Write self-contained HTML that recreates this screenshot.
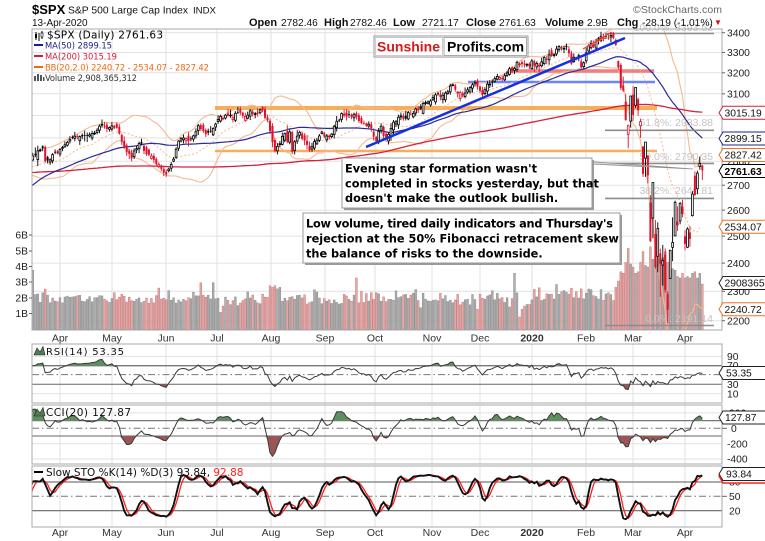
<!DOCTYPE html>
<html><head><meta charset="utf-8"><title>SPX Daily</title>
<style>
html,body{margin:0;padding:0;background:#fff;width:765px;height:541px;overflow:hidden}
svg{display:block}
.l{font-family:"Liberation Sans",Arial,sans-serif}
.d{font-family:"DejaVu Sans",Verdana,sans-serif}
</style></head><body>
<svg width="765" height="541" viewBox="0 0 765 541" xmlns="http://www.w3.org/2000/svg">
<defs>
<clipPath id="cm"><rect x="32" y="29" width="690" height="301"/></clipPath>
<clipPath id="cr"><rect x="32" y="344" width="690" height="59"/></clipPath>
<clipPath id="cc"><rect x="32" y="405" width="690" height="59"/></clipPath>
<clipPath id="cs"><rect x="32" y="466" width="690" height="61"/></clipPath>
</defs>
<rect width="765" height="541" fill="#fff"/>
<g id="grid"></g>
<g id="vol" clip-path="url(#cm)"></g>
<g clip-path="url(#cm)">
<line x1="215" y1="108" x2="657" y2="108" stroke="#f5a040" stroke-width="4" opacity="0.85"/>
<line x1="215" y1="151" x2="657" y2="151" stroke="#f5a040" stroke-width="2.5" opacity="0.85"/>
<line x1="507" y1="71" x2="654" y2="71" stroke="#f06060" stroke-width="3.5" opacity="0.8"/>
<line x1="468" y1="82" x2="655" y2="82" stroke="#5070ff" stroke-width="2.5" opacity="0.85"/>
</g>
<g id="ma" clip-path="url(#cm)"></g>
<g stroke="#8c8c8c" stroke-width="1.6">
<line x1="605" y1="33.5" x2="714" y2="33.5"/>
<line x1="605" y1="130.3" x2="714" y2="130.3"/>
<line x1="605" y1="163.4" x2="714" y2="163.4"/>
<line x1="605" y1="198.4" x2="714" y2="198.4"/>
<line x1="605" y1="325.5" x2="714" y2="325.5"/>
</g>
<g class="l" font-size="10.5" fill="#c4c4c4" text-anchor="end">
<text x="713" y="31">100.0%: 3393.52</text>
<text x="713" y="126">61.8%: 2933.88</text>
<text x="713" y="160">50.0%: 2790.35</text>
<text x="713" y="194">38.2%: 2646.81</text>
<text x="713" y="322">0.0%: 2191.14</text>
</g>
<g id="cdl" clip-path="url(#cm)"></g>
<line x1="366" y1="147" x2="625" y2="38" stroke="#1530e0" stroke-width="2.5"/>
<line x1="583" y1="49" x2="612" y2="32" stroke="#ff3030" stroke-width="1.2"/>
<line x1="590" y1="46" x2="606" y2="37" stroke="#ff6060" stroke-width="0.8"/>

<polygon points="548,158.5 693,169 592,164" fill="#d8d8d8" stroke="#8a8a8a" stroke-width="0.8"/>
<rect x="344" y="160" width="250" height="50" fill="#9a9a9a"/>
<rect x="342" y="158" width="250" height="50" fill="#fff" stroke="#999" stroke-width="1"/>
<g class="d" font-size="11.3" font-weight="bold" fill="#000">
<text x="345" y="172.5" textLength="192">Evening star formation wasn't</text>
<text x="345" y="187.5">completed in stocks yesterday, but that</text>
<text x="345" y="202">doesn't make the outlook bullish.</text>
</g>
<rect x="305" y="215" width="317" height="50" fill="#9a9a9a"/>
<rect x="303" y="213" width="317" height="50" fill="#fff" stroke="#999" stroke-width="1"/>
<g class="d" font-size="11.3" font-weight="bold" fill="#000">
<text x="306" y="227.5" textLength="307">Low volume, tired daily indicators and Thursday's</text>
<text x="306" y="242.5">rejection at the 50% Fibonacci retracement skew</text>
<text x="306" y="257.5">the balance of risks to the downside.</text>
</g>

<rect x="374" y="36" width="154" height="21" fill="#fff" stroke="#999"/>
<rect x="375.5" y="37.5" width="67" height="18" fill="#fff" stroke="#ccc"/>
<rect x="444" y="37.5" width="82.5" height="18" fill="#fff" stroke="#aaa"/>
<text class="l" x="377" y="51.5" font-size="14" font-weight="bold" fill="#d41a1a">Sunshine</text>
<text class="l" x="447" y="51.5" font-size="14" font-weight="bold" fill="#000">Profits.com</text>

<g id="ind"></g>

<g fill="none" stroke="#a8a8a8" stroke-width="1">
<rect x="32" y="29" width="690" height="301"/>
<rect x="32" y="344" width="690" height="59"/>
<rect x="32" y="405" width="690" height="59"/>
<rect x="32" y="466" width="690" height="61"/>
</g>

<text class="l" x="32" y="14" font-size="13" font-weight="bold" fill="#000">$SPX</text>
<text class="l" x="68" y="13.5" font-size="10.3" fill="#111" textLength="120">S&amp;P 500 Large Cap Index</text>
<text class="l" x="193" y="13.5" font-size="9.6" fill="#111">INDX</text>
<text class="l" x="633" y="13" font-size="10.5" fill="#666" textLength="89">©StockCharts.com</text>
<text class="l" x="32" y="26" font-size="10" fill="#111">13-Apr-2020</text>
<g class="l" font-size="10.2" fill="#111">
<text x="249" y="26" font-weight="bold" font-size="11">Open</text><text x="281" y="26">2782.46</text>
<text x="324" y="26" font-weight="bold" font-size="11">High</text><text x="350" y="26">2782.46</text>
<text x="393" y="26" font-weight="bold" font-size="11">Low</text><text x="422" y="26">2721.17</text>
<text x="466" y="26" font-weight="bold" font-size="11">Close</text><text x="499" y="26">2761.63</text>
<text x="545" y="26" font-weight="bold" font-size="11">Volume</text><text x="587" y="26">2.9B</text>
<text x="617" y="26" font-weight="bold" font-size="11">Chg</text><text x="642" y="26">-28.19 (-1.01%)</text>
</g>
<text class="l" x="714" y="25" font-size="8" fill="#d01010">▼</text>

<g stroke="#000" stroke-width="1"><line x1="36" y1="32" x2="36" y2="40"/><line x1="39" y1="33" x2="39" y2="41"/><line x1="42" y1="31" x2="42" y2="39"/></g>
<rect x="35" y="34" width="2" height="4" fill="#000"/><rect x="41" y="33" width="2" height="4" fill="#fff" stroke="#000" stroke-width="0.6"/>
<text class="d" x="47" y="38.5" font-size="10.5" fill="#000" textLength="116">$SPX (Daily) 2761.63</text>
<line x1="34" y1="45" x2="43" y2="45" stroke="#1c1c8c" stroke-width="2"/>
<text class="d" x="45" y="48.5" font-size="8.4" fill="#1c1c8c" textLength="67">MA(50) 2899.15</text>
<line x1="34" y1="56" x2="43" y2="56" stroke="#d01c3c" stroke-width="2"/>
<text class="d" x="45" y="59.5" font-size="8.4" fill="#d01c3c" textLength="72">MA(200) 3015.19</text>
<line x1="34" y1="67" x2="43" y2="67" stroke="#f06a10" stroke-width="2"/>
<text class="d" x="45" y="70.5" font-size="8.4" fill="#f06a10" textLength="164">BB(20,2.0) 2240.72 - 2534.07 - 2827.42</text>
<g fill="#555"><rect x="34" y="76" width="2" height="5"/><rect x="37" y="74" width="2" height="7"/><rect x="40" y="75" width="2" height="6"/><rect x="43" y="77" width="1.5" height="4"/></g>
<text class="d" x="45" y="81" font-size="8.4" fill="#333" textLength="92">Volume 2,908,365,312</text>

<g class="l" font-size="10.3" fill="#222" text-anchor="end">
<text x="28" y="238.5">6B</text><text x="28" y="254.5">5B</text><text x="28" y="270">4B</text>
<text x="28" y="285.5">3B</text><text x="28" y="301.5">2B</text><text x="28" y="317">1B</text>
</g>
<g stroke="#666"><line x1="29" y1="235" x2="32" y2="235"/><line x1="29" y1="251" x2="32" y2="251"/><line x1="29" y1="266.5" x2="32" y2="266.5"/><line x1="29" y1="282" x2="32" y2="282"/><line x1="29" y1="298" x2="32" y2="298"/><line x1="29" y1="313.5" x2="32" y2="313.5"/></g>

<g stroke="#666"><line x1="722" y1="32.7" x2="725" y2="32.7"/><line x1="722" y1="52.5" x2="725" y2="52.5"/><line x1="722" y1="72.8" x2="725" y2="72.8"/><line x1="722" y1="93.8" x2="725" y2="93.8"/><line x1="722" y1="185.2" x2="725" y2="185.2"/><line x1="722" y1="210.1" x2="725" y2="210.1"/><line x1="722" y1="236.1" x2="725" y2="236.1"/><line x1="722" y1="263.1" x2="725" y2="263.1"/><line x1="722" y1="291.3" x2="725" y2="291.3"/><line x1="722" y1="320.7" x2="725" y2="320.7"/></g>
<g class="l" font-size="10.3" fill="#222">
<text x="727" y="36.4">3400</text><text x="727" y="56.2">3300</text><text x="727" y="76.5">3200</text><text x="727" y="97.5">3100</text>
<text x="727" y="119.2">3000</text><text x="727" y="141.6">2900</text><text x="727" y="164.8">2800</text>
<text x="727" y="188.9">2700</text><text x="727" y="213.8">2600</text><text x="727" y="239.8">2500</text>
<text x="727" y="266.8">2400</text><text x="727" y="295">2300</text><text x="727" y="324.4">2200</text>
</g>
<g class="l" font-size="10.3">
<path d="M719,112.7 L723,106.2 L766,106.2 L766,119.2 L723,119.2 Z" fill="#fff" stroke="#d0203a"/>
<text x="724.5" y="116.4" fill="#111">3015.19</text>
<path d="M719,138.5 L723,132 L766,132 L766,145 L723,145 Z" fill="#fff" stroke="#202090"/>
<text x="724.5" y="142.2" fill="#111">2899.15</text>
<path d="M719,155 L723,148.5 L766,148.5 L766,161.5 L723,161.5 Z" fill="#fff" stroke="#f07020"/>
<text x="724.5" y="158.7" fill="#111">2827.42</text>
<path d="M719,171 L723,164.5 L766,164.5 L766,177.5 L723,177.5 Z" fill="#fff" stroke="#000"/>
<text x="724.5" y="174.8" fill="#000" font-weight="bold">2761.63</text>
<path d="M719,226.7 L723,220.2 L766,220.2 L766,233.2 L723,233.2 Z" fill="#fff" stroke="#f07020"/>
<text x="724.5" y="230.4" fill="#111">2534.07</text>
<path d="M719,283 L723,276.5 L766,276.5 L766,289.5 L723,289.5 Z" fill="#fff" stroke="#222"/>
<text x="724.5" y="286.7" fill="#111">2908365</text>
<path d="M719,309.3 L723,302.8 L766,302.8 L766,315.8 L723,315.8 Z" fill="#fff" stroke="#f07020"/>
<text x="724.5" y="313" fill="#111">2240.72</text>
</g>

<g class="l" font-size="10.5" fill="#333" text-anchor="middle">
<text x="60" y="341.5">Apr</text><text x="112" y="341.5">May</text><text x="166" y="341.5">Jun</text><text x="217" y="341.5">Jul</text><text x="271" y="341.5">Aug</text><text x="325" y="341.5">Sep</text><text x="375" y="341.5">Oct</text><text x="432" y="341.5">Nov</text><text x="480" y="341.5">Dec</text><text x="532" y="341.5" font-weight="bold">2020</text><text x="586" y="341.5">Feb</text><text x="633" y="341.5">Mar</text><text x="685" y="341.5">Apr</text>
<text x="60" y="536">Apr</text><text x="112" y="536">May</text><text x="166" y="536">Jun</text><text x="217" y="536">Jul</text><text x="271" y="536">Aug</text><text x="325" y="536">Sep</text><text x="375" y="536">Oct</text><text x="432" y="536">Nov</text><text x="480" y="536">Dec</text><text x="532" y="536" font-weight="bold">2020</text><text x="586" y="536">Feb</text><text x="633" y="536">Mar</text><text x="685" y="536">Apr</text>
</g>

<polygon points="34,355 37,348 40,352 43,346.5 45,355" fill="#4f7f4f" stroke="#222" stroke-width="0.6"/>
<text class="d" x="46" y="355" font-size="10" fill="#111" textLength="78">RSI(14) 53.35</text>
<polygon points="34,416 37,409 40,413 43,407.5 45,416" fill="#4f7f4f" stroke="#222" stroke-width="0.6"/>
<text class="d" x="46" y="416" font-size="10.5" fill="#111" textLength="85">CCI(20) 127.87</text>
<line x1="34" y1="472" x2="43" y2="472" stroke="#000" stroke-width="2"/>
<text class="d" x="46" y="476" font-size="10.5" fill="#111">Slow STO %K(14) %D(3) 93.84, <tspan fill="#ff2020">92.88</tspan></text>

<g class="l" font-size="10.3" fill="#222">
<text x="727" y="359.8">90</text><text x="727" y="369">70</text><text x="727" y="388">30</text><text x="727" y="397.3">10</text>
<text x="729" y="416.6">200</text><text x="731" y="432">0</text><text x="727" y="447.4">-200</text><text x="727" y="462.7">-400</text>
<text x="729" y="485.7">80</text><text x="729" y="500">50</text><text x="729" y="514.4">20</text>
</g>
<g stroke="#666"><line x1="722" y1="496.3" x2="727" y2="496.3"/><line x1="722" y1="428.3" x2="727" y2="428.3"/></g>
<g class="l" font-size="10.3">
<path d="M719,373 L723,366.5 L766,366.5 L766,379.5 L723,379.5 Z" fill="#fff" stroke="#222"/>
<text x="726" y="376.7" fill="#111">53.35</text>
<path d="M719,417.5 L723,411 L766,411 L766,424 L723,424 Z" fill="#fff" stroke="#222"/>
<text x="725" y="421.2" fill="#111">127.87</text>
<path d="M719,476 L723,470 L766,470 L766,483 L723,483 Z" fill="#fff" stroke="#ff2020" stroke-width="1.5"/>
<path d="M719,474 L723,467.5 L766,467.5 L766,480.5 L723,480.5 Z" fill="#fff" stroke="#222"/>
<text x="726" y="477.7" fill="#111">93.84</text>
</g>
</svg>
<script>
(function(){
var hol={'2018-05-28':1,'2018-07-04':1,'2018-09-03':1,'2018-11-22':1,'2018-12-05':1,'2018-12-25':1,'2019-01-01':1,'2019-01-21':1,'2019-02-18':1,'2019-04-19':1,'2019-05-27':1,'2019-07-04':1,'2019-09-02':1,'2019-11-28':1,'2019-12-25':1,'2020-01-01':1,'2020-01-20':1,'2020-02-17':1,'2020-04-10':1};
var days=[];
for(var t=Date.UTC(2018,4,1);t<=Date.UTC(2020,3,13);t+=86400000){var d=new Date(t),w=d.getUTCDay(),s=d.toISOString().slice(0,10);if(w>0&&w<6&&!hol[s])days.push(s);}
var N=days.length,idx={};days.forEach(function(s,i){idx[s]=i;});
function fi(s){if(idx[s]!==undefined)return idx[s];for(var i=0;i<N;i++)if(days[i]>s)return i;return N-1;}
var seed=12345;function rnd(){seed|=0;seed=seed+0x6D2B79F5|0;var t=Math.imul(seed^seed>>>15,1|seed);t=t+Math.imul(t^t>>>7,61|t)^t;return((t^t>>>14)>>>0)/4294967296;}
function g(){var u=0;while(u===0)u=rnd();var v=rnd();return Math.sqrt(-2*Math.log(u))*Math.cos(2*Math.PI*v);}
var A=[['2018-05-01',2655],['2018-05-21',2733],['2018-05-29',2690],['2018-06-13',2775],['2018-06-27',2699],['2018-07-25',2846],['2018-08-10',2833],['2018-08-29',2914],['2018-09-20',2930],['2018-10-03',2926],['2018-10-11',2728],['2018-10-17',2810],['2018-10-29',2641],['2018-11-07',2814],['2018-11-20',2641],['2018-11-30',2760],['2018-12-03',2790],['2018-12-07',2633],['2018-12-13',2651],['2018-12-24',2351],['2018-12-26',2468],['2019-01-03',2448],['2019-01-18',2671],['2019-01-31',2704],['2019-02-15',2776],['2019-02-28',2784],['2019-03-08',2743],['2019-03-15',2822],['2019-03-21',2855],['2019-03-22',2800],['2019-03-29',2834],['2019-04-05',2893],['2019-04-12',2907],['2019-04-23',2934],['2019-04-30',2946],['2019-05-03',2945],['2019-05-07',2884],['2019-05-13',2812],['2019-05-16',2876],['2019-05-23',2822],['2019-05-31',2752],['2019-06-03',2744],['2019-06-10',2886],['2019-06-14',2887],['2019-06-20',2954],['2019-06-25',2917],['2019-06-28',2942],['2019-07-03',2996],['2019-07-15',3014],['2019-07-18',2996],['2019-07-26',3026],['2019-07-31',2980],['2019-08-05',2844],['2019-08-09',2919],['2019-08-12',2883],['2019-08-13',2926],['2019-08-14',2840],['2019-08-19',2924],['2019-08-23',2847],['2019-08-30',2926],['2019-09-03',2906],['2019-09-12',3009],['2019-09-19',3006],['2019-09-24',2966],['2019-09-27',2961],['2019-10-02',2887],['2019-10-04',2952],['2019-10-08',2893],['2019-10-11',2970],['2019-10-18',2986],['2019-10-28',3039],['2019-11-01',3067],['2019-11-08',3093],['2019-11-15',3120],['2019-11-21',3104],['2019-11-27',3154],['2019-12-03',3093],['2019-12-06',3146],['2019-12-13',3169],['2019-12-20',3221],['2019-12-27',3240],['2019-12-31',3231],
['2020-01-02',3258],['2020-01-03',3235],['2020-01-06',3246],['2020-01-07',3237],['2020-01-08',3253],['2020-01-09',3275],['2020-01-10',3265],['2020-01-13',3288],['2020-01-14',3283],['2020-01-15',3289],['2020-01-16',3317],['2020-01-17',3330],['2020-01-21',3321],['2020-01-22',3321],['2020-01-23',3326],['2020-01-24',3295],['2020-01-27',3244],['2020-01-28',3276],['2020-01-29',3273],['2020-01-30',3284],['2020-01-31',3226],['2020-02-03',3249],['2020-02-04',3298],['2020-02-05',3334],['2020-02-06',3345],['2020-02-07',3328],['2020-02-10',3352],['2020-02-11',3357],['2020-02-12',3379],['2020-02-13',3374],['2020-02-14',3380],['2020-02-18',3370],['2020-02-19',3386],['2020-02-20',3373],['2020-02-21',3338],
['2020-02-24',3257,3260,3214,3226],['2020-02-25',3238,3247,3118,3128],['2020-02-26',3140,3182,3108,3116],['2020-02-27',3063,3098,2977,2979],['2020-02-28',2916,2959,2855,2954],['2020-03-02',2975,3090,2945,3090],['2020-03-03',3096,3136,2976,3003],['2020-03-04',3046,3130,3034,3130],['2020-03-05',3075,3083,2999,3024],['2020-03-06',2954,2985,2901,2972],['2020-03-09',2863,2863,2734,2747],['2020-03-10',2813,2882,2734,2882],['2020-03-11',2825,2825,2707,2741],['2020-03-12',2630,2660,2478,2481],['2020-03-13',2569,2711,2492,2711],['2020-03-16',2508,2562,2380,2386],['2020-03-17',2425,2553,2367,2529],['2020-03-18',2436,2453,2281,2398],['2020-03-19',2393,2467,2320,2409],['2020-03-20',2431,2454,2295,2305],['2020-03-23',2290,2300,2192,2237],['2020-03-24',2345,2449,2345,2447],['2020-03-25',2458,2572,2407,2476],['2020-03-26',2501,2638,2500,2630],['2020-03-27',2556,2615,2520,2541],['2020-03-30',2558,2631,2545,2627],['2020-03-31',2614,2641,2572,2585],['2020-04-01',2499,2522,2447,2471],['2020-04-02',2458,2534,2455,2527],['2020-04-03',2514,2538,2460,2489],['2020-04-06',2579,2676,2575,2664],['2020-04-07',2739,2757,2657,2660],['2020-04-08',2686,2760,2663,2750],['2020-04-09',2777,2819,2764,2790],['2020-04-13',2782.46,2782.46,2721.17,2761.63]];
var C=new Array(N),O=new Array(N),H=new Array(N),L=new Array(N),ex={};
var an=A.map(function(a){var i=fi(a[0]);if(a.length>2){ex[i]=a;}return [i,a.length>2?a[4]:a[1]];});
for(var k=0;k<an.length;k++){C[an[k][0]]=an[k][1];}
for(k=0;k<an.length-1;k++){var ia=an[k][0],ib=an[k+1][0],n=ib-ia;if(n<2)continue;var La=Math.log(an[k][1]),Lb=Math.log(an[k+1][1]);var W=[0];for(var j=1;j<=n;j++)W[j]=W[j-1]+g()*0.0036;for(j=1;j<n;j++)C[ia+j]=Math.exp(La+(Lb-La)*j/n+W[j]-j/n*W[n]);}
for(var i=0;i<N;i++){if(ex[i]){O[i]=ex[i][1];H[i]=ex[i][2];L[i]=ex[i][3];C[i]=ex[i][4];continue;}var c=C[i];var o=i>0?C[i-1]*Math.exp(g()*0.003):c;O[i]=o;H[i]=Math.max(o,c)*Math.exp(Math.abs(g())*0.003+0.0015);L[i]=Math.min(o,c)*Math.exp(-(Math.abs(g())*0.003+0.0015));}
var vo={'2019-03-15':3.8,'2019-06-21':3.0,'2019-06-28':3.0,'2019-07-03':1.1,'2019-07-05':1.5,'2019-08-01':2.8,'2019-08-02':2.7,'2019-08-05':2.8,'2019-08-06':2.6,'2019-08-07':2.7,'2019-09-20':3.3,'2019-11-29':1.3,'2019-12-20':3.6,'2019-12-24':0.8,'2019-12-26':1.3,'2019-12-27':1.5,'2019-12-30':1.6,'2019-12-31':1.6,'2020-01-02':1.9,'2020-01-31':2.6,'2020-02-21':2.7,'2020-02-24':3.1,'2020-02-25':3.7,'2020-02-26':3.6,'2020-02-27':4.3,'2020-02-28':5.2,'2020-03-02':4.2,'2020-03-03':4.0,'2020-03-04':3.6,'2020-03-05':3.7,'2020-03-06':4.3,'2020-03-09':5.0,'2020-03-10':4.1,'2020-03-11':4.0,'2020-03-12':5.3,'2020-03-13':4.5,'2020-03-16':4.7,'2020-03-17':4.6,'2020-03-18':4.5,'2020-03-19':4.6,'2020-03-20':5.0,'2020-03-23':4.3,'2020-03-24':4.1,'2020-03-25':3.9,'2020-03-26':3.8,'2020-03-27':3.4,'2020-03-30':3.3,'2020-03-31':3.6,'2020-04-01':3.3,'2020-04-02':3.4,'2020-04-03':3.3,'2020-04-06':3.6,'2020-04-07':3.7,'2020-04-08':3.3,'2020-04-09':3.6,'2020-04-13':2.91};
var V=[];for(i=0;i<N;i++){var b=days[i]>='2020-01-01'?2.2:1.97;V[i]=vo[days[i]]!==undefined?vo[days[i]]:b*Math.exp(g()*0.12);}
var iA=fi('2019-04-01'),iB=fi('2020-04-01'),dx=(685-60)/(iB-iA);
function X(i){return 60+(i-iA)*dx;}
var LN=Math.log(3400);function Y(p){return 32.7+(LN-Math.log(p))*661.6;}
var iS=0;while(X(iS)<26)iS++;
function sma(arr,p){var r=[];for(var i=0;i<N;i++){if(i<p-1){r[i]=null;continue;}var s=0;for(var j=i-p+1;j<=i;j++)s+=arr[j];r[i]=s/p;}return r;}
var m50=sma(C,50),m200=sma(C,200),m20=sma(C,20),bu=[],bl=[];
for(i=0;i<N;i++){if(m20[i]==null){bu[i]=bl[i]=null;continue;}var s2=0;for(j=i-19;j<=i;j++)s2+=Math.pow(C[j]-m20[i],2);var sd=Math.sqrt(s2/20);bu[i]=m20[i]+2*sd;bl[i]=m20[i]-2*sd;}
var f=function(v){return v.toFixed(1);};
function path(arr,yf){var s='';for(var i=iS;i<N;i++){if(arr[i]==null)continue;s+=(s?'L':'M')+f(X(i))+','+f(yf(arr[i]));}return s;}
var mx=[60,112,166,217,271,325,375,432,480,532,586,633,685],gs='';
mx.forEach(function(x){gs+='<line x1="'+x+'" y1="29" x2="'+x+'" y2="330" stroke="#e2e2e2"/><line x1="'+x+'" y1="344" x2="'+x+'" y2="403" stroke="#e2e2e2"/><line x1="'+x+'" y1="405" x2="'+x+'" y2="464" stroke="#e2e2e2"/><line x1="'+x+'" y1="466" x2="'+x+'" y2="527" stroke="#e2e2e2"/>';});
for(var p=2200;p<=3400;p+=100){var yy=Y(p);gs+='<line x1="32" y1="'+f(yy)+'" x2="722" y2="'+f(yy)+'" stroke="#e2e2e2"/>';}
function hl(y,c,dash,w){return '<line x1="32" y1="'+y+'" x2="722" y2="'+y+'" stroke="'+c+'" stroke-width="'+(w||1)+'"'+(dash?' stroke-dasharray="7,3,1.5,3"':'')+'/>';}
gs+=hl(356.4,'#e2e2e2')+hl(393.6,'#e2e2e2')+hl(365.7,'#777',0,1.3)+hl(374.6,'#777',1)+hl(384.3,'#666');
gs+=hl(412.9,'#e2e2e2')+hl(443.7,'#e2e2e2')+hl(459,'#e2e2e2')+hl(420.6,'#777',0,1.3)+hl(428.3,'#777',1)+hl(436,'#666');
gs+=hl(482,'#777',0,1.2)+hl(496.3,'#777',1)+hl(510.7,'#666',0,1.2);
document.getElementById('grid').innerHTML=gs;
var vs='';for(i=iS;i<N;i++){var h=V[i]*15.6,dn=i>0&&C[i]<C[i-1];vs+='<rect x="'+f(X(i)-0.9)+'" y="'+f(329.5-h)+'" width="1.8" height="'+f(h)+'" fill="'+(dn?'#e4a8a8':'#adadad')+'" stroke="'+(dn?'#c77a7a':'#8a8a8a')+'" stroke-width="0.5"/>';}
document.getElementById('vol').innerHTML=vs;
var ms='';
ms+='<path d="'+path(bu,Y)+'" fill="none" stroke="#f7b88e" stroke-width="1.1"/>';
ms+='<path d="'+path(bl,Y)+'" fill="none" stroke="#f7b88e" stroke-width="1.1"/>';
ms+='<path d="'+path(m20,Y)+'" fill="none" stroke="#f7b88e" stroke-width="1" stroke-dasharray="2,2"/>';
ms+='<path d="'+path(m200,Y)+'" fill="none" stroke="#d8203a" stroke-width="1.3"/>';
ms+='<path d="'+path(m50,Y)+'" fill="none" stroke="#2a2a9a" stroke-width="1.2"/>';
document.getElementById('ma').innerHTML=ms;
var cs='';
for(i=iS;i<N;i++){var x=X(i),red=i>0&&C[i]<C[i-1],col=red?'#e2102a':'#000';
cs+='<line x1="'+f(x)+'" y1="'+f(Y(H[i]))+'" x2="'+f(x)+'" y2="'+f(Y(L[i]))+'" stroke="'+col+'" stroke-width="0.9"/>';
var y1=Y(Math.max(O[i],C[i])),y2=Y(Math.min(O[i],C[i])),bh=Math.max(y2-y1,0.8);
if(C[i]>=O[i])cs+='<rect x="'+f(x-0.9)+'" y="'+f(y1)+'" width="1.8" height="'+f(bh)+'" fill="#fff" stroke="'+col+'" stroke-width="0.8"/>';
else cs+='<rect x="'+f(x-1)+'" y="'+f(y1)+'" width="2" height="'+f(bh)+'" fill="'+col+'"/>';}
document.getElementById('cdl').innerHTML=cs;
var R=[null],ag=0,al=0;for(i=1;i<N;i++){var ch=C[i]-C[i-1],gg=Math.max(ch,0),ll=Math.max(-ch,0);if(i<=14){ag+=gg/14;al+=ll/14;R[i]=(i==14)?100-100/(1+ag/Math.max(al,1e-9)):null;}else{ag=(ag*13+gg)/14;al=(al*13+ll)/14;R[i]=100-100/(1+ag/Math.max(al,1e-9));}}
var CC=[],tp=[];for(i=0;i<N;i++){tp[i]=(H[i]+L[i]+C[i])/3;if(i<19){CC[i]=null;continue;}var sm=0;for(j=i-19;j<=i;j++)sm+=tp[j];sm/=20;var md=0;for(j=i-19;j<=i;j++)md+=Math.abs(tp[j]-sm);md/=20;CC[i]=(tp[i]-sm)/(0.015*md);}
var fk=[],sk=[],sdd=[];for(i=0;i<N;i++){if(i<13){fk[i]=null;continue;}var hh=-1e9,lo=1e9;for(j=i-13;j<=i;j++){hh=Math.max(hh,H[j]);lo=Math.min(lo,L[j]);}fk[i]=(C[i]-lo)/(hh-lo)*100;}
for(i=0;i<N;i++){sk[i]=(i>=15)?(fk[i]+fk[i-1]+fk[i-2])/3:null;}
for(i=0;i<N;i++){sdd[i]=(i>=17)?(sk[i]+sk[i-1]+sk[i-2])/3:null;}
function yr(v){return 365.7+(70-v)*0.4667;}
function yc(v){return 428.3-v*0.077;}
function ys(v){return 520.3-v*0.478;}
function fp(arr,yf,th,above){var yt=yf(th),s='',lx=0;for(var i=iS;i<N;i++){if(arr[i]==null)continue;var y=yf(arr[i]),q=above?Math.min(y,yt):Math.max(y,yt),x=X(i);if(!s)s='M'+f(x)+','+f(yt)+'L'+f(x)+','+f(q);else s+='L'+f(x)+','+f(q);lx=x;}return s+'L'+f(lx)+','+f(yt)+'Z';}
var is='<g clip-path="url(#cr)"><path d="'+fp(R,yr,70,1)+'" fill="#5f8f5f"/><path d="'+fp(R,yr,30,0)+'" fill="#9a5555"/><path d="'+path(R,yr)+'" fill="none" stroke="#3a3a3a" stroke-width="1"/></g>';
is+='<g clip-path="url(#cc)"><path d="'+fp(CC,yc,100,1)+'" fill="#5f8f5f"/><path d="'+fp(CC,yc,-100,0)+'" fill="#9a5555"/><path d="'+path(CC,yc)+'" fill="none" stroke="#3a3a3a" stroke-width="1"/></g>';
is+='<g clip-path="url(#cs)"><path d="'+path(sdd,ys)+'" fill="none" stroke="#ff2020" stroke-width="1.3"/><path d="'+path(sk,ys)+'" fill="none" stroke="#111" stroke-width="1.9"/></g>';
document.getElementById('ind').innerHTML=is;
})();
</script>
</body></html>
